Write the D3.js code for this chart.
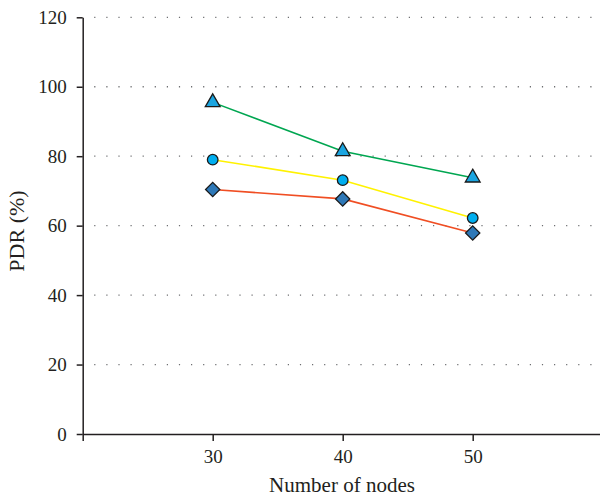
<!DOCTYPE html>
<html>
<head>
<meta charset="utf-8">
<script src="https://cdn.jsdelivr.net/npm/d3@7"></script>
<style>
  html, body { margin: 0; padding: 0; background: #fff; }
  svg { display: block; }
  svg text { font-family: "Liberation Serif", "Times New Roman", serif !important; fill: #231f20; }
</style>
</head>
<body>
<svg id="chart" width="600" height="497"></svg>
<script>
// ---- data ----
const nodes = [30, 40, 50];
const triangleSeries = [95.5, 81.4, 73.8];
const circleSeries = [79.0, 73.1, 62.2];
const diamondSeries = [70.4, 67.7, 57.9];
const xTicks = [30, 40, 50];
const yTicks = [0, 20, 40, 60, 80, 100, 120];
const xLabel = "Number of nodes";
const yLabel = "PDR (%)";

const series = [
  { name: "triangle", values: triangleSeries, line: "#00a651", fill: "#1ba5e0", shape: d3.symbolTriangle, size: 95 },
  { name: "circle", values: circleSeries, line: "#fff200", fill: "#00aeef", shape: d3.symbolCircle, size: 88 },
  { name: "diamond", values: diamondSeries, line: "#f04e23", fill: "#2e78b7", shape: d3.symbolSquare, size: 102, rotate: 45 }
];

const svg = d3.select("#chart");
const mLeft = 82.7, mTop = 17.3, mBottom = 434, mRight = 602.7;

const x = d3.scaleLinear().domain([20, 60]).range([mLeft, mRight]);
const y = d3.scaleLinear().domain([0, 120]).range([mBottom, mTop]);

// grid
svg.append("g").selectAll("line")
  .data(yTicks.filter(t => t > 0))
  .join("line")
  .attr("x1", mLeft + 11.5).attr("x2", 600)
  .attr("y1", d => y(d)).attr("y2", d => y(d))
  .attr("stroke", "#6d6e71")
  .attr("stroke-width", 1.3)
  .attr("stroke-dasharray", "1.2,10.9");

// axes
const yAxis = svg.append("g")
  .attr("transform", `translate(${mLeft},0)`)
  .call(d3.axisLeft(y).tickValues(yTicks).tickSize(6).tickPadding(10).tickSizeOuter(0));
const xAxis = svg.append("g")
  .attr("transform", `translate(0,${mBottom})`)
  .call(d3.axisBottom(x).tickValues([20].concat(xTicks)).tickFormat(d => d === 20 ? "" : d).tickSize(7).tickPadding(9).tickSizeOuter(0));

[yAxis, xAxis].forEach(g => {
  g.attr("font-family", null);
  g.select(".domain").attr("stroke", "#231f20").attr("stroke-width", 1.5);
  g.selectAll(".tick line").attr("stroke", "#231f20").attr("stroke-width", 1.5);
  g.selectAll(".tick text")
    .style("font-family", '"Liberation Serif", "Times New Roman", serif')
    .attr("font-size", 19).attr("fill", "#231f20");
});

// axis labels
svg.append("text")
  .attr("x", 342).attr("y", 492)
  .attr("text-anchor", "middle")
  .attr("font-size", 21)
  .text(xLabel);
svg.append("text")
  .attr("transform", "translate(24,231) rotate(-90)")
  .attr("text-anchor", "middle")
  .attr("font-size", 22)
  .text(yLabel);

// lines and markers
const line = d3.line().x((d, i) => x(nodes[i])).y(d => y(d));
series.forEach(s => {
  svg.append("path")
    .datum(s.values)
    .attr("d", line)
    .attr("fill", "none")
    .attr("stroke", s.line)
    .attr("stroke-width", 1.6);
});
series.forEach(s => {
  svg.append("g").selectAll("path")
    .data(s.values)
    .join("path")
    .attr("d", d3.symbol().type(s.shape).size(s.size))
    .attr("transform", (d, i) => `translate(${x(nodes[i])},${y(d)})` + (s.rotate ? ` rotate(${s.rotate})` : ""))
    .attr("fill", s.fill)
    .attr("stroke", "#1a1a1a")
    .attr("stroke-width", 1.3);
});
</script>
</body>
</html>
